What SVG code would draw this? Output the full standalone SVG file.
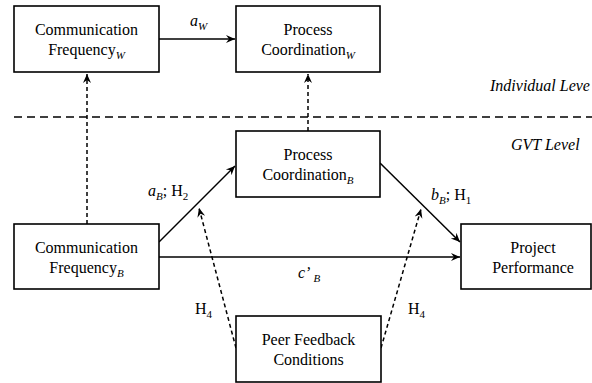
<svg xmlns="http://www.w3.org/2000/svg" width="592" height="383" viewBox="0 0 592 383">
<style>
text{font-family:"Liberation Serif","Times New Roman",serif;font-size:16px;fill:#000}
.c{text-anchor:middle}
.i{font-style:italic}
.s{font-size:11px;font-style:italic}
.box{fill:#fff;stroke:#000;stroke-width:1.6}
.ln{fill:none;stroke:#000;stroke-width:1.5}
.dl{fill:none;stroke:#000;stroke-width:1.5;stroke-dasharray:4 3}
</style>
<defs>
<marker id="ah" markerWidth="10" markerHeight="10" refX="9" refY="5" orient="auto" markerUnits="userSpaceOnUse">
<path d="M0,1 L9,5 L0,9 L3,5 Z" fill="#000"/>
</marker>
</defs>
<line x1="14" y1="117" x2="592" y2="117" stroke="#000" stroke-width="1.5" stroke-dasharray="8 5"/>
<text class="i" x="490" y="91">Individual Leve</text>
<text class="i" x="511" y="150">GVT Level</text>
<g id="connectors">
<line class="ln" x1="159" y1="39" x2="235" y2="39" marker-end="url(#ah)"/>
<line class="dl" x1="87" y1="224" x2="87" y2="74" marker-end="url(#ah)"/>
<line class="dl" x1="308" y1="131" x2="308" y2="74" marker-end="url(#ah)"/>
<line class="ln" x1="159" y1="242" x2="235" y2="166" marker-end="url(#ah)"/>
<line class="ln" x1="380" y1="163" x2="460" y2="242" marker-end="url(#ah)"/>
<line class="ln" x1="159" y1="257" x2="460" y2="257" marker-end="url(#ah)"/>
<line class="dl" x1="236" y1="348" x2="199" y2="208" marker-end="url(#ah)"/>
<line class="dl" x1="381" y1="348" x2="421" y2="209" marker-end="url(#ah)"/>
<text x="190" y="26"><tspan class="i">a</tspan><tspan class="s" dy="4">W</tspan></text>
<text x="148" y="196"><tspan class="i">a</tspan><tspan class="s" dy="4">B</tspan><tspan dy="-4">; H</tspan><tspan font-size="11" dy="4">2</tspan></text>
<text x="431" y="200"><tspan class="i">b</tspan><tspan class="s" dy="4">B</tspan><tspan dy="-4">; H</tspan><tspan font-size="11" dy="4">1</tspan></text>
<text x="298" y="278"><tspan class="i">c’</tspan><tspan class="s" dx="3" dy="4">B</tspan></text>
<text x="195" y="314">H<tspan font-size="11" dy="4">4</tspan></text>
<text x="408" y="314">H<tspan font-size="11" dy="4">4</tspan></text>
</g>
<g id="commW">
<rect class="box" x="14" y="6" width="145" height="66"/>
<text class="c" x="86.5" y="35">Communication</text>
<text class="c" x="86.5" y="55">Frequency<tspan class="s" dy="4">W</tspan></text>
</g>
<g id="procW">
<rect class="box" x="236" y="6" width="144" height="66"/>
<text class="c" x="308" y="35">Process</text>
<text class="c" x="308" y="55">Coordination<tspan class="s" dy="4">W</tspan></text>
</g>
<g id="procB">
<rect class="box" x="236" y="131" width="144" height="66"/>
<text class="c" x="308" y="160">Process</text>
<text class="c" x="308" y="180">Coordination<tspan class="s" dy="4">B</tspan></text>
</g>
<g id="commB">
<rect class="box" x="14" y="224" width="145" height="65"/>
<text class="c" x="86.5" y="253">Communication</text>
<text class="c" x="86.5" y="273">Frequency<tspan class="s" dy="4">B</tspan></text>
</g>
<g id="project">
<rect class="box" x="461" y="224" width="130" height="65"/>
<text class="c" x="533" y="253">Project</text>
<text class="c" x="533" y="273">Performance</text>
</g>
<g id="peer">
<rect class="box" x="236" y="316" width="145" height="66"/>
<text class="c" x="308.5" y="345">Peer Feedback</text>
<text class="c" x="308.5" y="365">Conditions</text>
</g>
</svg>
